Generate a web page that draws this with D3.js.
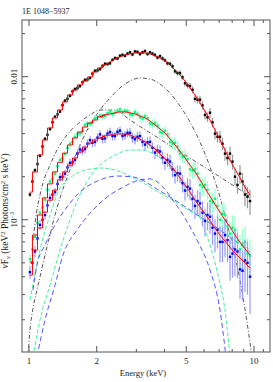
<!DOCTYPE html>
<html>
<head>
<meta charset="utf-8">
<script src="https://cdn.jsdelivr.net/npm/d3@7"></script>
<style>
  body { margin: 0; background: #fff; }
  text { font-family: "Liberation Serif", "DejaVu Serif", serif; fill: #222; }
</style>
</head>
<body>
<div id="chart"></div>
<script>
// energias de los canales (keV)
const energies = [1.010,1.063,1.119,1.178,1.240,1.305,1.374,1.445,1.521,1.601,1.685,1.774,1.867,1.965,2.068,2.177,2.291,2.411,2.538,2.671,2.811,2.959,3.114,3.278,3.450,3.631,3.822,4.022,4.234,4.456,4.690,4.936,5.195,5.468,5.754,6.057,6.375,6.709,7.062,7.432,7.823,8.233,8.666,9.120,9.600];
// canales intermedios
const energiesMid = [1.036,1.091,1.148,1.208,1.272,1.339,1.409,1.483,1.561,1.643,1.729,1.820,1.915,2.016,2.122,2.233,2.350,2.474,2.604,2.740,2.884,3.035,3.195,3.363,3.539,3.725,3.921,4.127,4.343,4.571,4.811,5.064,5.330,5.610,5.904,6.214,6.540,6.884,7.244,7.625,8.025,8.446,8.890,9.357];

// espectro negro (época de mayor flujo)
const modelBlack = [0.00156,0.00216,0.00283,0.00361,0.00438,0.00515,0.00585,0.00666,0.00745,0.00807,0.00875,0.00933,0.00995,0.01079,0.01150,0.01207,0.01268,0.01330,0.01374,0.01419,0.01442,0.01465,0.01465,0.01465,0.01442,0.01396,0.01352,0.01288,0.01207,0.01114,0.01028,0.00933,0.00834,0.00745,0.00655,0.00576,0.00498,0.00424,0.00361,0.00307,0.00261,0.00226,0.00196,0.00169,0.00149];
const dataBlack = [0.00150,0.00222,0.00280,0.00368,0.00430,0.00525,0.00570,0.00680,0.00735,0.00820,0.00860,0.00950,0.00980,0.01100,0.01130,0.01230,0.01240,0.01350,0.01400,0.01400,0.01480,0.01500,0.01440,0.01510,0.01480,0.01420,0.01390,0.01300,0.01230,0.01090,0.01060,0.00900,0.00860,0.00700,0.00690,0.00540,0.00560,0.00400,0.00380,0.00290,0.00290,0.00200,0.00210,0.00150,0.00135];
const dataBlackMid = [0.00185,0.00245,0.00325,0.00392,0.00480,0.00545,0.00632,0.00700,0.00790,0.00835,0.00915,0.00955,0.01050,0.01105,0.01190,0.01225,0.01310,0.01340,0.01420,0.01450,0.01430,0.01490,0.01480,0.01440,0.01450,0.01360,0.01340,0.01240,0.01180,0.01060,0.00990,0.00870,0.00810,0.00690,0.00630,0.00520,0.00480,0.00380,0.00340,0.00270,0.00255,0.00175,0.00185,0.00145];
const errBlack = [0.04,0.035,0.03,0.03,0.03,0.03,0.03,0.03,0.03,0.03,0.03,0.03,0.03,0.03,0.03,0.03,0.03,0.03,0.03,0.03,0.03,0.03,0.03,0.03,0.03,0.03,0.035,0.035,0.04,0.04,0.045,0.05,0.055,0.06,0.065,0.07,0.08,0.09,0.1,0.11,0.12,0.13,0.15,0.17,0.2];

// espectro verde
const modelGreen = [0.000506,0.000782,0.00108,0.00142,0.00178,0.00216,0.00252,0.00292,0.00333,0.00373,0.00410,0.00445,0.00474,0.00498,0.00524,0.00540,0.00549,0.00558,0.00567,0.00567,0.00558,0.00549,0.00531,0.00515,0.00490,0.00459,0.00431,0.00404,0.00367,0.00333,0.00302,0.00270,0.00241,0.00216,0.00190,0.00166,0.00146,0.00128,0.00113,0.000996,0.000893,0.000782,0.000697,0.000626,0.000566];
const dataGreen = [0.00053,0.00076,0.00112,0.00138,0.00185,0.00210,0.00262,0.00288,0.00340,0.00380,0.00402,0.00460,0.00470,0.00512,0.00535,0.00530,0.00570,0.00560,0.00590,0.00580,0.00545,0.00565,0.00520,0.00530,0.00470,0.00475,0.00410,0.00420,0.00350,0.00345,0.00290,0.00280,0.00225,0.00225,0.00175,0.00175,0.00135,0.00140,0.00100,0.00108,0.00080,0.00085,0.00062,0.00070,0.00056];
const dataGreenMid = [0.00062,0.00095,0.00122,0.00162,0.00192,0.00238,0.00268,0.00318,0.00348,0.00398,0.00418,0.00470,0.00480,0.00520,0.00525,0.00555,0.00545,0.00580,0.00560,0.00575,0.00540,0.00550,0.00510,0.00512,0.00465,0.00455,0.00405,0.00395,0.00340,0.00325,0.00275,0.00265,0.00220,0.00210,0.00170,0.00162,0.00132,0.00125,0.00110,0.00090,0.00088,0.00070,0.00068,0.00058];
const errGreen = [0.08,0.07,0.06,0.06,0.05,0.05,0.05,0.05,0.05,0.05,0.05,0.05,0.05,0.05,0.05,0.05,0.05,0.05,0.05,0.05,0.05,0.06,0.06,0.06,0.07,0.07,0.08,0.08,0.09,0.1,0.1,0.11,0.12,0.13,0.14,0.15,0.16,0.17,0.19,0.2,0.22,0.24,0.26,0.28,0.3];

// espectro azul
const modelBlue = [0.000410,0.000614,0.000876,0.00113,0.00137,0.00161,0.00190,0.00216,0.00241,0.00270,0.00297,0.00322,0.00343,0.00361,0.00372,0.00385,0.00391,0.00398,0.00398,0.00398,0.00391,0.00378,0.00366,0.00350,0.00333,0.00312,0.00288,0.00266,0.00241,0.00219,0.00196,0.00175,0.00156,0.00137,0.00123,0.00110,0.000980,0.000876,0.000782,0.000710,0.000642,0.000585,0.000540,0.000498,0.000459];
const dataBlue = [0.00043,0.00060,0.00092,0.00108,0.00142,0.00156,0.00198,0.00210,0.00250,0.00262,0.00310,0.00312,0.00360,0.00350,0.00395,0.00370,0.00410,0.00385,0.00420,0.00390,0.00405,0.00365,0.00385,0.00335,0.00350,0.00295,0.00300,0.00250,0.00255,0.00205,0.00210,0.00160,0.00165,0.00125,0.00130,0.00098,0.00105,0.00080,0.00070,0.00078,0.00055,0.00062,0.00045,0.00052,0.00040];
const dataBlueMid = [0.00050,0.00074,0.00100,0.00126,0.00150,0.00178,0.00200,0.00232,0.00252,0.00290,0.00305,0.00340,0.00345,0.00375,0.00368,0.00400,0.00385,0.00412,0.00385,0.00405,0.00375,0.00380,0.00350,0.00348,0.00318,0.00305,0.00272,0.00262,0.00225,0.00212,0.00180,0.00170,0.00140,0.00135,0.00112,0.00108,0.00088,0.00085,0.00070,0.00072,0.00058,0.00060,0.00044,0.00050];
const errBlue = [0.1,0.09,0.08,0.07,0.07,0.07,0.07,0.07,0.07,0.07,0.07,0.07,0.07,0.07,0.07,0.07,0.07,0.07,0.07,0.07,0.08,0.08,0.08,0.09,0.09,0.1,0.1,0.11,0.12,0.13,0.14,0.15,0.17,0.19,0.2,0.22,0.24,0.26,0.28,0.3,0.32,0.35,0.38,0.4,0.45];

// componentes del modelo: cuerpo negro (BB) y ley de potencias (PL)
const bbBlackE = [0.990,1.010,1.042,1.085,1.119,1.178,1.240,1.305,1.374,1.521,1.685,1.867,2.068,2.291,2.538,2.811,3.114,3.450,3.822,4.234,4.690,5.195,5.754,6.375,7.062,7.823,8.666,9.21,9.80];
const bbBlackV = [0.00011,0.000169,0.000241,0.000322,0.000398,0.000566,0.000782,0.00108,0.00142,0.00223,0.00333,0.00459,0.00585,0.00710,0.00834,0.00933,0.00979,0.00963,0.00889,0.00769,0.00624,0.00482,0.00349,0.00234,0.00144,0.000782,0.000379,0.000215,0.00011];
const plBlackE = [1.042,1.085,1.119,1.154,1.240,1.332,1.475,1.685,1.867,2.068,2.411,2.811,3.822,5.195,7.062,9.60];
const plBlackV = [0.000722,0.00117,0.00149,0.00181,0.00241,0.00307,0.00391,0.00482,0.00540,0.00585,0.00585,0.00498,0.00366,0.00270,0.00199,0.00146];

const bbGreenE = [1.042,1.119,1.240,1.374,1.521,1.685,1.867,2.068,2.411,2.811,3.114,3.450,3.822,4.234,4.690,5.195,5.754,6.375,6.918,7.432,7.823];
const bbGreenV = [0.00011,0.000199,0.000349,0.000614,0.000996,0.00149,0.00199,0.00241,0.00283,0.00307,0.00307,0.00297,0.00270,0.00234,0.00190,0.00144,0.00103,0.000666,0.000410,0.000233,0.00011];
const plGreenE = [1.010,1.119,1.240,1.374,1.521,1.685,1.867,2.068,2.411,2.811,3.822,5.195,7.062,9.600];
const plGreenV = [0.000274,0.000614,0.00108,0.001666,0.00196,0.00216,0.00226,0.00230,0.00223,0.00202,0.00154,0.00115,0.000848,0.000614];

const bbBlueE = [1.085,1.178,1.305,1.416,1.634,1.867,2.222,2.617,3.114,3.450,3.940,4.365,4.837,5.58,6.375,7.062,7.508];
const bbBlueV = [0.00011,0.000199,0.000349,0.000566,0.000848,0.00111,0.00144,0.00169,0.00190,0.00193,0.00169,0.00137,0.00108,0.000722,0.000445,0.000233,0.00011];
const plBlueE = [1.042,1.085,1.178,1.305,1.475,1.685,2.068,2.461,2.898,3.822,5.195,7.062,9.600];
const plBlueV = [0.000322,0.000482,0.000666,0.000919,0.00123,0.00156,0.00190,0.00202,0.00199,0.00159,0.00117,0.000848,0.000594];

const xTickValues = [1, 2, 5, 10];
const xTickLabels = ["1", "2", "5", "10"];

const width = 273, height = 382;
const plot = { left: 22, right: 270, top: 20, bottom: 352 };
const stepLimit = 2.1; // por debajo de esta energía los canales del modelo se ven como escalones

const svg = d3.select("#chart").append("svg")
    .attr("width", width)
    .attr("height", height);

const x = d3.scaleLog().domain([0.931, 11.78]).range([plot.left, plot.right]);
const y = d3.scaleLog().domain([1.19e-4, 0.0249]).range([plot.bottom, plot.top]);

svg.append("defs").append("clipPath").attr("id", "clip")
    .append("rect")
    .attr("x", plot.left).attr("y", plot.top)
    .attr("width", plot.right - plot.left).attr("height", plot.bottom - plot.top);

const g = svg.append("g").attr("clip-path", "url(#clip)");

const stepLine = d3.line().x(d => x(d[0])).y(d => y(d[1])).curve(d3.curveStep);
const smoothLine = d3.line().x(d => x(d[0])).y(d => y(d[1])).curve(d3.curveMonotoneX);
const zip = (a, b) => a.map((v, i) => [v, b[i]]);

// componentes: curva suave discontinua
function drawComponent(es, vs, color, dash) {
    g.append("path")
        .datum(zip(es, vs))
        .attr("fill", "none")
        .attr("stroke", color)
        .attr("stroke-width", 0.9)
        .attr("stroke-dasharray", dash)
        .attr("d", smoothLine);
}
drawComponent(bbBlackE, bbBlackV, "#444", "4,2,1,2");
drawComponent(plBlackE, plBlackV, "#444", "4,2,1,2");
drawComponent(bbGreenE, bbGreenV, "#33ee99", "4,2");
drawComponent(plGreenE, plGreenV, "#33ee99", "4,2");
drawComponent(bbBlueE, bbBlueV, "#4444ff", "5,3");
drawComponent(plBlueE, plBlueV, "#4444ff", "5,3");

// datos con barras de error
function drawData(es, vals, errs, color, errColor) {
    const pts = es.map((e, i) => ({ e, v: vals[i], err: errs[i] }));
    g.append("g").selectAll("line")
        .data(pts).enter().append("line")
        .attr("x1", d => x(d.e)).attr("x2", d => x(d.e))
        .attr("y1", d => y(d.v * (1 + d.err)))
        .attr("y2", d => y(Math.max(d.v * (1 - d.err), 1e-5)))
        .attr("stroke", errColor)
        .attr("stroke-width", 1.2);
    g.append("g").selectAll("rect")
        .data(pts).enter().append("rect")
        .attr("x", d => x(d.e) - 1.2).attr("y", d => y(d.v) - 1.2)
        .attr("width", 2.4).attr("height", 2.4)
        .attr("fill", color);
}
drawData(energies, dataBlack, errBlack, "#000", "#999");
drawData(energiesMid, dataBlackMid, errBlack, "#000", "#999");
drawData(energies, dataGreen, errGreen, "#00ff80", "#99ffcc");
drawData(energiesMid, dataGreenMid, errGreen, "#00ff80", "#99ffcc");
drawData(energies, dataBlue, errBlue, "#0000ff", "#9999ff");
drawData(energiesMid, dataBlueMid, errBlue, "#0000ff", "#9999ff");

// modelos: escalones a baja energía y curva suave a partir de stepLimit
function drawModel(vs) {
    const pts = zip(energies, vs);
    const k = pts.findIndex(p => p[0] > stepLimit);
    [[pts.slice(0, k + 1), stepLine], [pts.slice(k - 1), smoothLine]].forEach(([seg, gen]) => {
        g.append("path")
            .datum(seg)
            .attr("fill", "none")
            .attr("stroke", "#ff0000")
            .attr("stroke-width", 1)
            .attr("d", gen);
    });
}
[modelBlack, modelGreen, modelBlue].forEach(drawModel);

// marco
svg.append("rect")
    .attr("x", plot.left).attr("y", plot.top)
    .attr("width", plot.right - plot.left).attr("height", plot.bottom - plot.top)
    .attr("fill", "none").attr("stroke", "#555").attr("stroke-width", 1);

// ticks del eje x (abajo y arriba, hacia adentro)
const xMinor = d3.range(1, 12).filter(v => xTickValues.indexOf(v) < 0);
const tickColor = "#555";
function xTicks(vals, len) {
    vals.forEach(v => {
        svg.append("line").attr("x1", x(v)).attr("x2", x(v))
            .attr("y1", plot.bottom).attr("y2", plot.bottom - len)
            .attr("stroke", tickColor);
        svg.append("line").attr("x1", x(v)).attr("x2", x(v))
            .attr("y1", plot.top).attr("y2", plot.top + len)
            .attr("stroke", tickColor);
    });
}
xTicks(xTickValues, 6);
xTicks(xMinor, 3);

// ticks del eje y
const yMajor = [1e-3, 1e-2];
const yMinor = [];
[1e-4, 1e-3, 1e-2].forEach(p => d3.range(2, 10).forEach(k => {
    const v = p * k;
    if (v > y.domain()[0] && v < y.domain()[1]) yMinor.push(v);
}));
function yTicks(vals, len) {
    vals.forEach(v => {
        svg.append("line").attr("y1", y(v)).attr("y2", y(v))
            .attr("x1", plot.left).attr("x2", plot.left + len)
            .attr("stroke", tickColor);
        svg.append("line").attr("y1", y(v)).attr("y2", y(v))
            .attr("x1", plot.right).attr("x2", plot.right - len)
            .attr("stroke", tickColor);
    });
}
yTicks(yMajor, 6);
yTicks(yMinor, 3);

// etiquetas
svg.selectAll(".xlab").data(xTickValues).enter().append("text")
    .attr("x", d => x(d)).attr("y", 364)
    .attr("text-anchor", "middle")
    .style("font-size", "9px")
    .text((d, i) => xTickLabels[i]);

svg.append("text")
    .attr("transform", `translate(17,${y(0.01)}) rotate(-90)`)
    .attr("text-anchor", "middle")
    .style("font-size", "9px")
    .text("0.01");

const t3 = svg.append("text")
    .attr("transform", `translate(17,${y(1e-3)}) rotate(-90)`)
    .attr("text-anchor", "middle")
    .style("font-size", "9px");
t3.append("tspan").text("10");
t3.append("tspan").attr("dy", -3).style("font-size", "6px").text("−3");

svg.append("text")
    .attr("x", 143).attr("y", 376)
    .attr("text-anchor", "middle")
    .style("font-size", "8.5px")
    .text("Energy (keV)");

const yl = svg.append("text")
    .attr("transform", "translate(8,211) rotate(-90)")
    .attr("text-anchor", "middle")
    .style("font-size", "9.5px");
yl.append("tspan").text("νF");
yl.append("tspan").attr("dy", 2).style("font-size", "6.5px").text("ν");
yl.append("tspan").attr("dy", -2).text(" (keV");
yl.append("tspan").attr("dy", -3).style("font-size", "6.5px").text("2");
yl.append("tspan").attr("dy", 3).text(" Photons/cm");
yl.append("tspan").attr("dy", -3).style("font-size", "6.5px").text("2");
yl.append("tspan").attr("dy", 3).text(" s keV)");

svg.append("text")
    .attr("x", 22).attr("y", 14)
    .style("font-size", "8px")
    .text("1E 1048−5937");
</script>
</body>
</html>
